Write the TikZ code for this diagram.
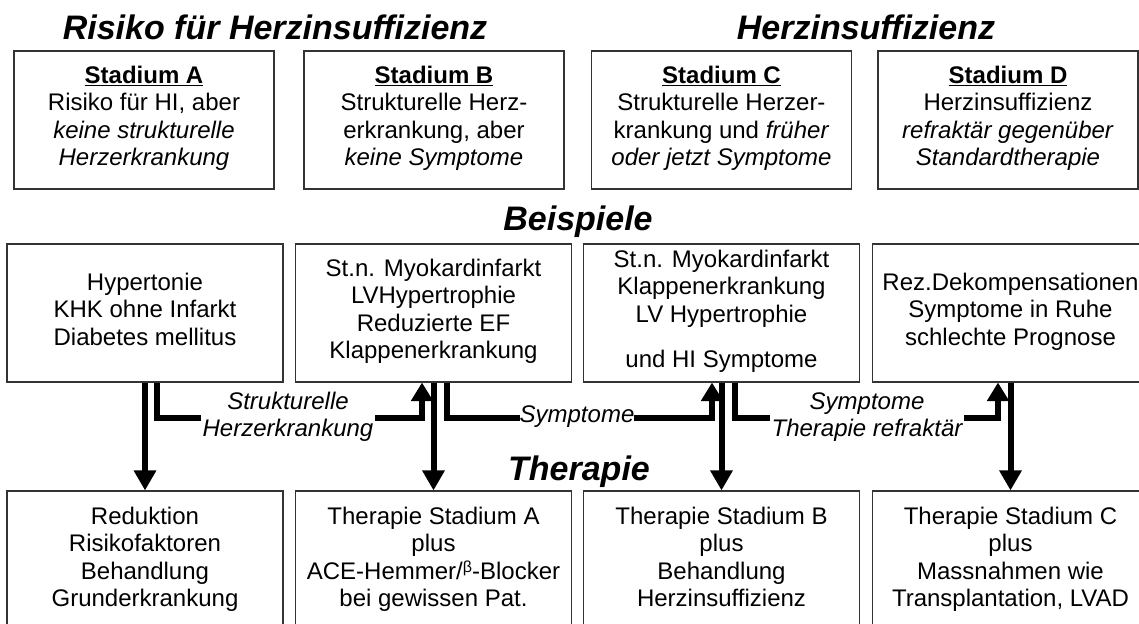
\documentclass[tikz,border=0pt]{standalone}
\usepackage{fontspec}
\setmainfont{Liberation Sans}
\usetikzlibrary{arrows.meta}
\begin{document}
\begin{tikzpicture}[x=0.75pt,y=-0.75pt,
  txt/.style={font=\fontsize{18pt}{20.6pt}\selectfont},
  box/.style={txt,draw=black!80,line width=0.8pt,align=center,inner sep=0pt,
    execute at begin node=\rule{0pt}{20.5pt},execute at end node=\strut},
  topbox/.style={box,minimum width=195pt,minimum height=103.5pt},
  midbox/.style={box,minimum width=207pt,minimum height=103.5pt},
  botbox/.style={box,minimum width=207pt,minimum height=105pt},
  ttl/.style={font=\fontsize{25.5pt}{28pt}\selectfont\bfseries\itshape,inner sep=0pt,anchor=base},
  flow/.style={line width=4.5pt,line join=miter},
  down/.style={flow,-{Triangle[width=16pt,length=15pt]}},
  up/.style={flow,-{Triangle[width=16pt,length=14pt]}},
  lbl/.style={txt,font=\fontsize{18pt}{20.6pt}\selectfont\itshape,fill=white,inner xsep=1pt,inner ysep=0pt,align=center}
]
\useasboundingbox (0,0) rectangle (1139,624);
\clip (0,0) rectangle (1139,624);

% titles
\node[ttl] (t1) at (275,40) {Risiko für Herzinsuffizienz};
\node[ttl] (t2) at (866,40) {Herzinsuffizienz};
\node[ttl] (t3) at (578,231) {Beispiele};
\node[ttl] (t4) at (579,480) {Therapie};

% top row
\node[topbox] (sa) at (144,120) {\textbf{\underline{Stadium A}}\\Risiko für HI, aber\\\textit{keine strukturelle}\\\textit{Herzerkrankung}};
\node[topbox] (sb) at (434,120) {\textbf{\underline{Stadium B}}\\Strukturelle Herz-\\erkrankung, aber\\\textit{keine Symptome}};
\node[topbox] (sc) at (721.5,120) {\textbf{\underline{Stadium C}}\\Strukturelle Herzer-\\krankung und \textit{früher}\\\textit{oder jetzt Symptome}};
\node[topbox] (sd) at (1008,120) {\textbf{\underline{Stadium D}}\\Herzinsuffizienz\\\textit{refraktär gegenüber}\\\textit{Standardtherapie}};

% middle row
\node[midbox] (ma) at (145,313) {Hypertonie\\KHK ohne Infarkt\\Diabetes mellitus};
\node[midbox] (mb) at (433.5,313) {St.n. Myokardinfarkt\\LVHypertrophie\\Reduzierte EF\\Klappenerkrankung};
\node[midbox] (mc) at (721.5,313) {St.n. Myokardinfarkt\\Klappenerkrankung\\LV Hypertrophie\\[13.5pt]und HI Symptome};
\node[midbox] (md) at (1010.5,313) {Rez.Dekompensationen\\Symptome in Ruhe\\schlechte Prognose};

% bottom row
\node[botbox] (ba) at (145,561) {Reduktion\\Risikofaktoren\\Behandlung\\Grunderkrankung};
\node[botbox] (bb) at (433.5,561) {Therapie Stadium A\\plus\\ACE-Hemmer/\raisebox{5pt}{\fontsize{12pt}{12pt}\selectfont β}-Blocker\\bei gewissen Pat.};
\node[botbox] (bc) at (721.5,561) {Therapie Stadium B\\plus\\Behandlung\\Herzinsuffizienz};
\node[botbox] (bd) at (1010.5,561) {Therapie Stadium C\\plus\\Massnahmen wie\\Transplantation, LVAD};

% down arrows
\draw[down] (ma.south) -- (ba.north);
\draw[down] (mb.south) -- (bb.north);
\draw[down] (mc.south) -- (bc.north);
\draw[down] (md.south) -- (bd.north);

% progression brackets
\draw[up] ([xshift=9pt]ma.south) -- ++(0,35) -| ([xshift=-8.625pt]mb.south);
\draw[up] ([xshift=10.125pt]mb.south) -- ++(0,35) -| ([xshift=-7.125pt]mc.south);
\draw[up] ([xshift=10.125pt]mc.south) -- ++(0,35) -| ([xshift=-9.375pt]md.south);

% labels
\node[lbl] (l1) at (288,417) {Strukturelle\\Herzerkrankung};
\node[lbl,inner xsep=0pt] (l2) at (577,417) {Symptome};
\node[lbl] (l3) at (867,417) {Symptome\\Therapie refraktär};
\end{tikzpicture}
\end{document}
